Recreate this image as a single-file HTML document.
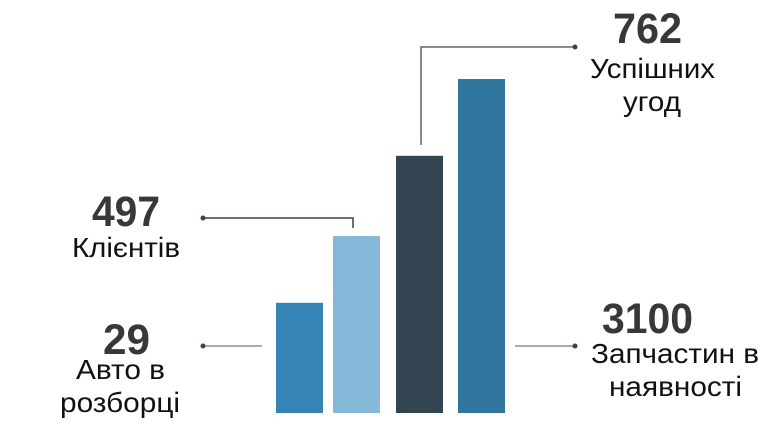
<!DOCTYPE html>
<html><head><meta charset="utf-8"><style>
html,body{margin:0;padding:0;background:#fff;}
svg{display:block;font-family:"Liberation Sans",Arial,sans-serif;}
.num{font-weight:bold;font-size:43px;fill:#383838;}
.lbl{font-size:28px;fill:#111;}
</style></head><body>
<svg id="chart" width="776" height="436" viewBox="0 0 776 436">
<g id="bars"></g>
<g id="leaders" stroke-width="1.5" fill="none">
<polyline points="203,346 262,346" stroke="#8a9096"/>
<polyline points="203,218 353,218 353,228" stroke="#34454f"/>
<polyline points="421,145 421,47 575,47" stroke="#5a6870"/>
<polyline points="515,346 575,346" stroke="#8a9096"/>
</g>
<g fill="#34454f">
<circle cx="203" cy="346" r="2.5"/>
<circle cx="203" cy="218" r="2.5"/>
<circle cx="575" cy="47" r="2.5"/>
<circle cx="575" cy="346" r="2.5"/>
</g>
<text class="num" x="92" y="226" textLength="68" lengthAdjust="spacingAndGlyphs">497</text>
<text class="lbl" x="72" y="257" textLength="108" lengthAdjust="spacingAndGlyphs">Клієнтів</text>
<text class="num" x="103" y="354" textLength="47" lengthAdjust="spacingAndGlyphs">29</text>
<text class="lbl" x="76" y="379" textLength="89" lengthAdjust="spacingAndGlyphs">Авто в</text>
<text class="lbl" x="60" y="412" textLength="120" lengthAdjust="spacingAndGlyphs">розборці</text>
<text class="num" x="613" y="43" textLength="69" lengthAdjust="spacingAndGlyphs">762</text>
<text class="lbl" x="590" y="78" textLength="125" lengthAdjust="spacingAndGlyphs">Успішних</text>
<text class="lbl" x="623" y="111" textLength="58" lengthAdjust="spacingAndGlyphs">угод</text>
<text class="num" x="602" y="333" textLength="91" lengthAdjust="spacingAndGlyphs">3100</text>
<text class="lbl" x="591" y="363" textLength="168" lengthAdjust="spacingAndGlyphs">Запчастин в</text>
<text class="lbl" x="609" y="396" textLength="133" lengthAdjust="spacingAndGlyphs">наявності</text>
</svg>
<script>
const categories = ["cars", "clients", "deals", "parts"];
const barLevels = [33, 53, 77, 100];
const barColors = ["#3584b5", "#85b9d9", "#324550", "#30769f"];
const baseY = 413, topY = 79;
function yScale(v){ return baseY - (baseY - topY) * v / 100; }
const barX = [276, 333, 396, 458];
function xScale(i){ return barX[i]; }
const g = document.getElementById('bars');
categories.forEach((c, i) => {
  const r = document.createElementNS('http://www.w3.org/2000/svg', 'rect');
  const y = yScale(barLevels[i]);
  r.setAttribute('x', xScale(i));
  r.setAttribute('y', y);
  r.setAttribute('width', 47);
  r.setAttribute('height', baseY - y);
  r.setAttribute('fill', barColors[i]);
  
  
  g.appendChild(r);
});
</script>
</body></html>
